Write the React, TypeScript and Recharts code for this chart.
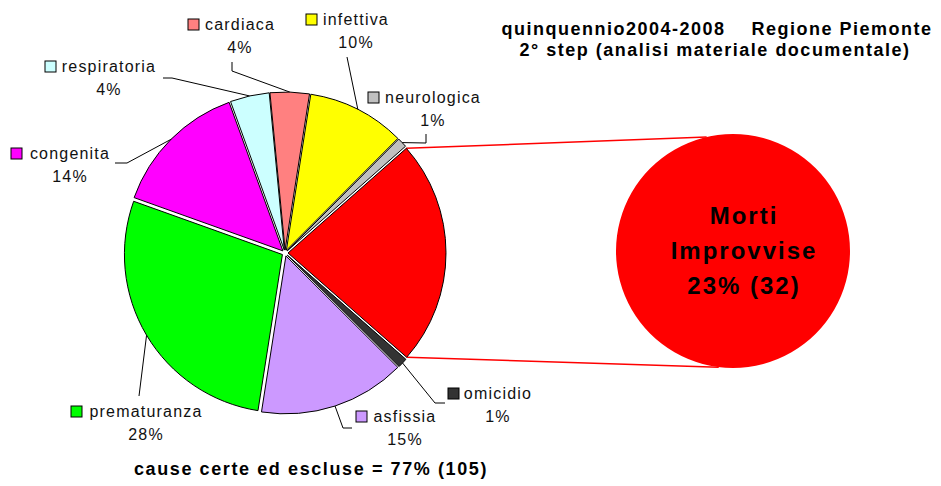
import { PieChart, Pie, Cell, Sector } from 'recharts';

// main pie, clockwise from the "other" slice that is broken out on the right
const CAUSES = ['Morti Improvvise', 'omicidio', 'asfissia', 'prematuranza', 'congenita', 'respiratoria', 'cardiaca', 'infettiva', 'neurologica'];
const PERCENT = [23, 1, 15, 28, 14, 4, 4, 10, 1];
const SUDDEN_COUNT = 32;
const CERTAIN_COUNT = 105;

const COLORS = ['#FF0000', '#333333', '#CC99FF', '#00FF00', '#FF00FF', '#CCFFFF', '#FF8080', '#FFFF00', '#C0C0C0'];

const mainData = CAUSES.map((name, i) => ({ name, value: PERCENT[i] }));
const suddenData = [{ name: CAUSES[0], value: PERCENT[0], count: SUDDEN_COUNT }];
const certainPct = 100 - PERCENT[0];

const W = 941;
const H = 486;
const CX = 285;
const CY = 253;
const R = 158;
const EXPLODE = 3;
const START = 41.5;
const CX2 = 733;
const CY2 = 251;
const R2 = 117;
const RAD = Math.PI / 180;

const FONT = '"Liberation Sans", Arial, sans-serif';

// label boxes: left of the key square, centre of the name, name baseline, leader bend points
const LABELS: Record<string, { sx: number; tx: number; y: number; leader: number[][] }> = {
  omicidio: { sx: 448, tx: 498, y: 399, leader: [[435, 403], [445, 403]] },
  asfissia: { sx: 356, tx: 405, y: 422, leader: [[343, 428], [352, 428]] },
  prematuranza: { sx: 71, tx: 146, y: 417, leader: [[139, 396]] },
  congenita: { sx: 11, tx: 70, y: 159, leader: [[127, 163], [115, 163]] },
  respiratoria: { sx: 45, tx: 109, y: 72, leader: [[172, 78], [163, 78]] },
  cardiaca: { sx: 188, tx: 240, y: 30, leader: [[232, 71], [232, 62]] },
  infettiva: { sx: 306, tx: 356, y: 25, leader: [[347, 57]] },
  neurologica: { sx: 368, tx: 433, y: 103, leader: [[426, 143], [426, 134]] },
};

const polar = (cx: number, cy: number, r: number, a: number) => [cx + r * Math.cos(-a * RAD), cy + r * Math.sin(-a * RAD)];

function ExplodedSector(props: any) {
  const { cx, cy, innerRadius, outerRadius, startAngle, endAngle, midAngle, fill } = props;
  const [ox, oy] = polar(0, 0, EXPLODE, midAngle);
  return (
    <Sector
      cx={cx + ox}
      cy={cy + oy}
      innerRadius={innerRadius}
      outerRadius={outerRadius}
      startAngle={startAngle}
      endAngle={endAngle}
      fill={fill}
      stroke="#000"
      strokeWidth={1}
    />
  );
}

function renderLabel(p: any) {
  const name = CAUSES[p.index];
  const lay = LABELS[name];
  if (!lay) return null;
  const [ex, ey] = polar(p.cx, p.cy, p.outerRadius + EXPLODE, p.midAngle);
  const pts = [[ex, ey], ...lay.leader].map(q => q.join(',')).join(' ');
  return (
    <g key={name}>
      <polyline points={pts} fill="none" stroke="#000" strokeWidth={1} />
      <rect x={lay.sx} y={lay.y - 11} width={11} height={11} fill={COLORS[p.index]} stroke="#000" strokeWidth={1} />
      <text x={lay.tx} y={lay.y} textAnchor="middle" fontFamily={FONT} fontSize={16} letterSpacing={1.2} fill="#111">
        {name}
      </text>
      <text x={lay.tx} y={lay.y + 23} textAnchor="middle" fontFamily={FONT} fontSize={16} letterSpacing={1.2} fill="#111">
        {PERCENT[p.index]}%
      </text>
    </g>
  );
}

function renderSuddenLabel(p: any) {
  const x = p.cx + 11;
  const [first, second] = String(p.name).split(' ');
  const style = { fontFamily: FONT, fontSize: 24, fontWeight: 700, letterSpacing: 2, fill: '#000' };
  return (
    <g>
      <text x={x} y={224} textAnchor="middle" {...style}>{first}</text>
      <text x={x} y={259} textAnchor="middle" {...style}>{second}</text>
      <text x={x} y={294} textAnchor="middle" {...style}>{`${p.value}% (${p.payload.count})`}</text>
    </g>
  );
}

export default function App() {
  // connector lines from the red slice to the broken-out circle
  const sweep = (360 * PERCENT[0]) / 100;
  const [ox, oy] = polar(0, 0, EXPLODE, START - sweep / 2);
  const [ax, ay] = polar(CX + ox, CY + oy, R, START);
  const [bx, by] = polar(CX + ox, CY + oy, R, START - sweep);
  const [tx, ty] = polar(CX2, CY2, R2, 103);
  const [ux, uy] = polar(CX2, CY2, R2, -97);

  const titleStyle = { fontFamily: FONT, fontSize: 18, fontWeight: 700, letterSpacing: 1.5, fill: '#000' };

  return (
    <div style={{ position: 'absolute', left: 0, top: 0, width: W, height: H, background: '#fff' }}>
      <PieChart width={W} height={H} margin={{ top: 0, right: 0, bottom: 0, left: 0 }}>
        <line x1={ax} y1={ay} x2={tx} y2={ty} stroke="#FF0000" strokeWidth={1.5} />
        <line x1={bx} y1={by} x2={ux} y2={uy} stroke="#FF0000" strokeWidth={1.5} />
        <Pie
          data={mainData}
          dataKey="value"
          nameKey="name"
          cx={CX}
          cy={CY}
          outerRadius={R}
          startAngle={START}
          endAngle={START - 360}
          stroke="#000"
          strokeWidth={1}
          shape={ExplodedSector}
          label={renderLabel}
          labelLine={false}
          isAnimationActive={false}
        >
          {mainData.map((_, i) => <Cell key={i} fill={COLORS[i]} />)}
        </Pie>
        <Pie
          data={suddenData}
          dataKey="value"
          nameKey="name"
          cx={CX2}
          cy={CY2}
          outerRadius={R2}
          startAngle={90}
          endAngle={-270}
          fill="#FF0000"
          stroke="none"
          label={renderSuddenLabel}
          labelLine={false}
          isAnimationActive={false}
        />
        <text x={717} y={35} textAnchor="middle" style={{ whiteSpace: 'pre' }} {...titleStyle}>
          {'quinquennio2004-2008    Regione Piemonte'}
        </text>
        <text x={715} y={56} textAnchor="middle" {...titleStyle}>
          2° step (analisi materiale documentale)
        </text>
        <text x={311} y={475} textAnchor="middle" {...titleStyle} letterSpacing={1.6}>
          {`cause certe ed escluse = ${certainPct}% (${CERTAIN_COUNT})`}
        </text>
      </PieChart>
    </div>
  );
}
